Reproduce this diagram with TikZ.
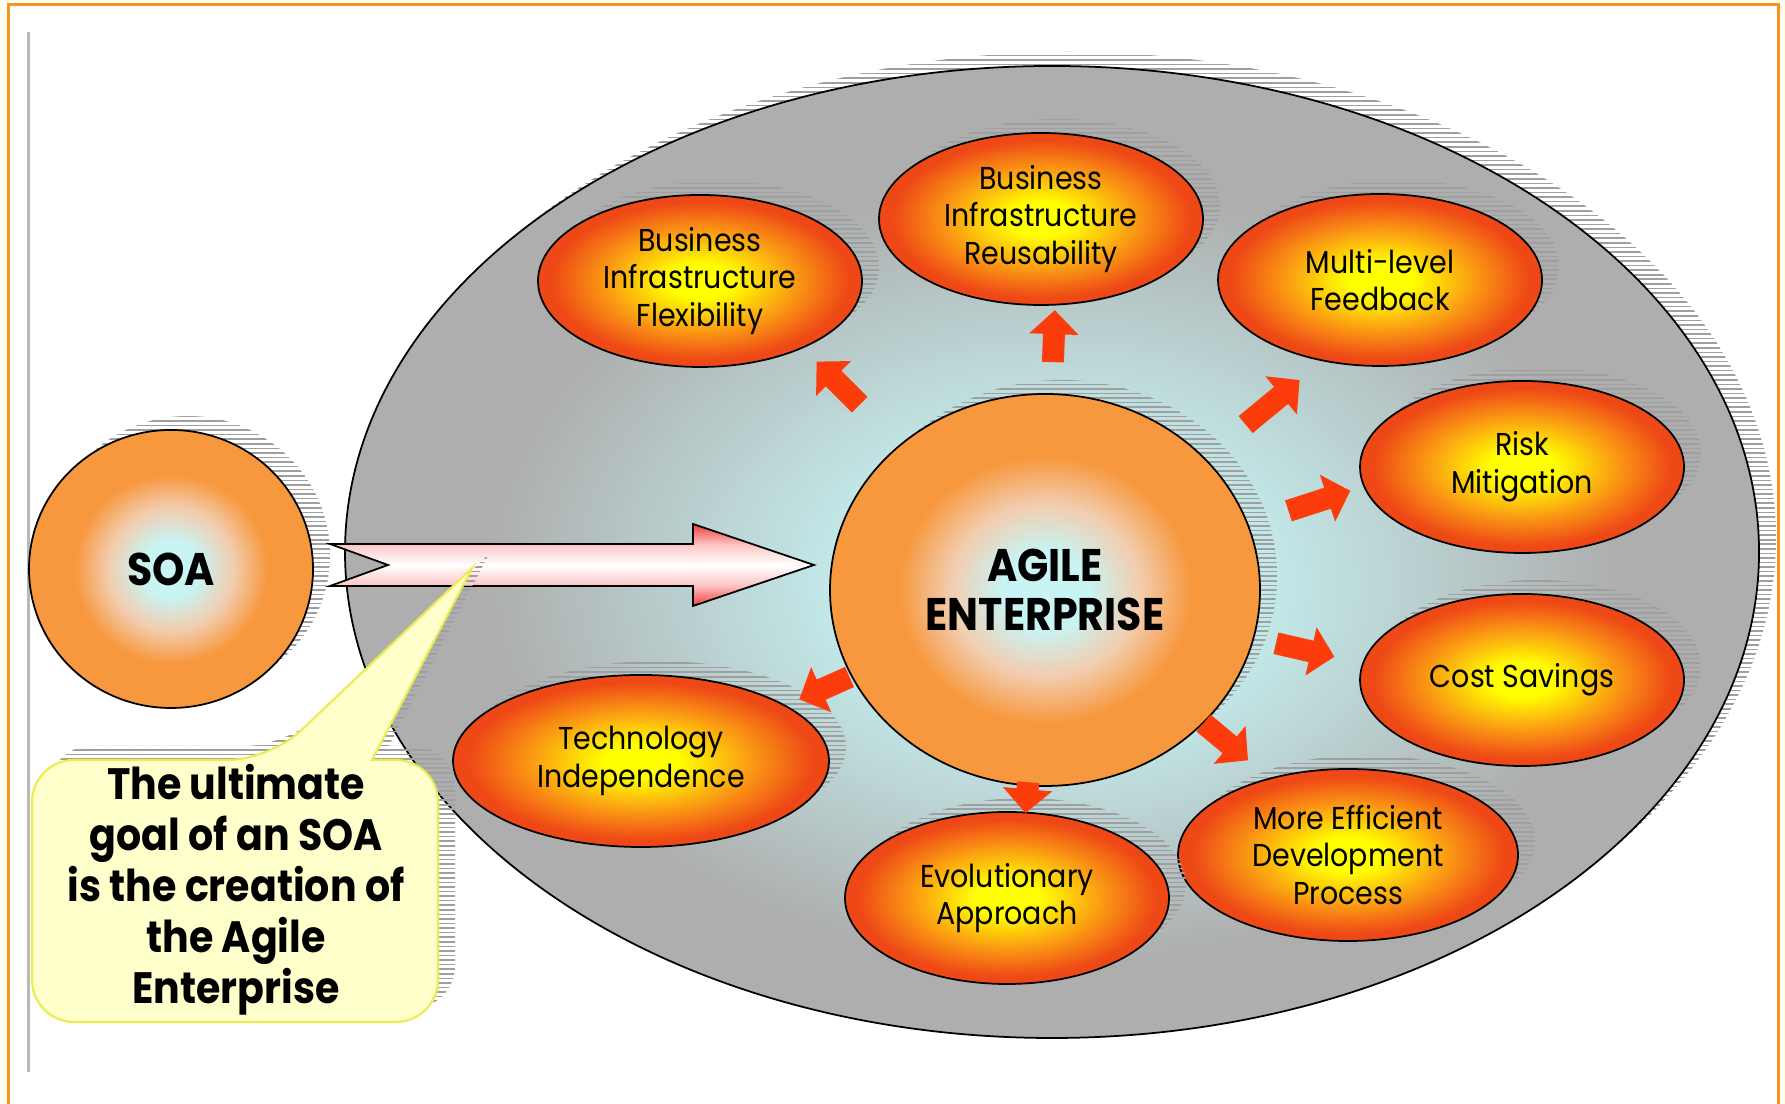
\documentclass[tikz,border=0pt]{standalone}
\usepackage{fontspec}
\setmainfont{Poppins}[FakeStretch=0.9]
\usetikzlibrary{calc}
\usetikzlibrary{arrows.meta}
\usetikzlibrary{shapes.geometric}
\usetikzlibrary{shadows}
\usetikzlibrary{patterns.meta}

\definecolor{frame}{RGB}{247,148,29}
\definecolor{margin}{RGB}{255,254,242}
\definecolor{bgcyan}{RGB}{196,236,236}
\definecolor{bggray}{RGB}{174,174,174}
\definecolor{fireyellow}{RGB}{255,255,0}
\definecolor{fireorange}{RGB}{250,150,20}
\definecolor{firered}{RGB}{238,72,22}
\definecolor{glowcyan}{RGB}{200,244,244}
\definecolor{glowpeach}{RGB}{242,205,175}
\definecolor{gloworange}{RGB}{247,152,62}
\definecolor{arrowred}{RGB}{252,60,10}
\definecolor{noteyellow}{RGB}{255,255,204}
\definecolor{noteedge}{RGB}{236,236,80}
\definecolor{pinkred}{RGB}{240,64,64}
\definecolor{pinklight}{RGB}{252,200,200}

\pgfdeclareradialshading{bigglow}{\pgfpoint{0bp}{-2bp}}{color(0bp)=(bgcyan); color(7bp)=(bgcyan); color(20bp)=(bggray); color(50bp)=(bggray)}
\pgfdeclareradialshading{fireball}{\pgfpoint{0bp}{0bp}}{color(0bp)=(fireyellow); color(5bp)=(fireyellow); color(15bp)=(fireorange); color(23bp)=(firered); color(50bp)=(firered)}
\pgfdeclareradialshading{glowball}{\pgfpoint{0bp}{0bp}}{color(0bp)=(glowcyan); color(5bp)=(glowcyan); color(11bp)=(glowpeach); color(17bp)=(gloworange); color(50bp)=(gloworange)}
\pgfdeclareverticalshading{pinkbar}{100bp}{color(0bp)=(pinkred); color(25bp)=(pinkred); color(38bp)=(pinklight); color(50bp)=(white); color(62bp)=(pinklight); color(75bp)=(pinkred); color(100bp)=(pinkred)}

\tikzdeclarepattern{
  name=shadowlines,
  type=uncolored,
  bottom left={(-0.1pt,-0.1pt)},
  top right={(4.1pt,1.4pt)},
  tile size={(4pt,1.3pt)},
  code={\draw[line width=0.45pt] (-0.1pt,0.65pt) -- (4.1pt,0.65pt);}
}

\tikzset{
  hatched/.style={general shadow={shadow xshift=0.17cm, shadow yshift=0.14cm, pattern=shadowlines, pattern color=gray!75}},
  fireoval/.style={ellipse, draw=black, line width=0.5pt, shade, shading=fireball, minimum width=3.24cm, minimum height=1.72cm, inner sep=0pt, align=center, font=\fontsize{9}{10.7}\selectfont, hatched},
  glowdisc/.style={ellipse, draw=black, line width=0.5pt, shade, shading=glowball, inner sep=0pt, align=center, font=\fontsize{13}{14.2}\selectfont\bfseries, hatched},
  redarrow/.style={draw=arrowred, line width=0.22cm, -{Triangle[length=0.24cm,width=0.48cm]}},
  notebox/.style={draw=noteedge, line width=0.6pt, fill=noteyellow, hatched},
  notetext/.style={align=center, font=\fontsize{12.5}{14.5}\selectfont\bfseries}
}

\begin{document}
\begin{tikzpicture}

\useasboundingbox (0,0) rectangle (17.85,11.04);
\fill[margin] (0,0) rectangle (17.85,11.04);
\draw[frame, line width=0.03cm, fill=white] (0.08,-0.2) rectangle (17.78,10.99);
\draw[gray!55, line width=0.03cm] (0.29,10.72) -- (0.29,0.32);

\node[ellipse, draw=black, line width=0.5pt, shade, shading=bigglow, minimum width=14.14cm, minimum height=9.72cm, hatched] (field) at (10.52,5.52) {};

\node[glowdisc, minimum width=2.84cm, minimum height=2.78cm] (soa) at (1.71,5.35) {SOA};

\coordinate (tail) at (3.30,5.39);
\coordinate (tip) at (8.14,5.39);
\shadedraw[shading=pinkbar, draw=black, line width=0.5pt] ($(tail)+(0,0.21)$) -- ($(tip)+(-1.21,0.21)$) -- ($(tip)+(-1.21,0.41)$) -- (tip) -- ($(tip)+(-1.21,-0.41)$) -- ($(tip)+(-1.21,-0.21)$) -- ($(tail)+(0,-0.21)$) -- ($(tail)+(0.58,0)$) -- cycle;

\node[glowdisc, minimum width=4.30cm, minimum height=3.92cm] (agile) at (10.45,5.14) {AGILE\\ENTERPRISE};

\node[fireoval] (flex) at (7.00,8.23) {Business\\Infrastructure\\Flexibility};
\node[fireoval] (reus) at (10.41,8.85) {Business\\Infrastructure\\Reusability};
\node[fireoval] (multi) at (13.80,8.24) {Multi-level\\Feedback};
\node[fireoval] (risk) at (15.22,6.37) {Risk\\Mitigation};
\node[fireoval] (cost) at (15.22,4.24) {Cost Savings};
\node[fireoval, minimum width=3.40cm] (effic) at (13.48,2.49) {More Efficient\\Development\\Process};
\node[fireoval] (evol) at (10.07,2.06) {Evolutionary\\Approach};
\node[fireoval, minimum width=3.76cm] (tech) at (6.41,3.43) {Technology\\Independence};

\foreach \nm/\ang/\ra/\rb in {flex/135/2.62/3.23, reus/88/2.28/2.80, multi/39.5/2.60/3.30, risk/18/2.56/3.21, cost/-13/2.37/2.97, effic/-40/2.07/2.65, evol/-95/1.93/2.24, tech/204/2.14/2.69}{
  \coordinate (\nm from) at ($(agile.center)+(\ang:\ra)$);
  \coordinate (\nm to) at ($(agile.center)+(\ang:\rb)$);
  \draw[redarrow] (\nm from) -- (\nm to);
}

\coordinate (notetip) at (4.72,5.36);
\draw[notebox] (0.32,2.2) [rounded corners=0.42cm] -- (0.32,3.44) -- (2.70,3.44) [sharp corners] -- (notetip) -- (3.72,3.44) [rounded corners=0.42cm] -- (4.38,3.44) -- (4.38,0.82) -- (0.32,0.82) -- cycle;
\node[notetext] (note) at (2.36,2.14) {The ultimate\\goal of an SOA\\is the creation of\\the Agile\\Enterprise};

\end{tikzpicture}
\end{document}
